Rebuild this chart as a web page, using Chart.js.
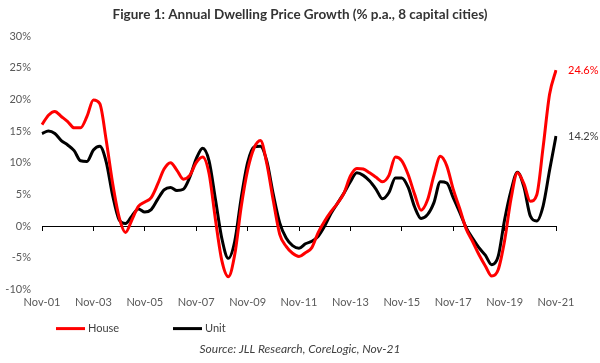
<!DOCTYPE html>
<html>
<head>
<meta charset="utf-8">
<script src="https://cdn.jsdelivr.net/npm/chart.js@4.4.1/dist/chart.umd.min.js"></script>
<style>
  html, body { margin: 0; padding: 0; background: #fff; }
  #wrap { width: 600px; height: 363px; }
</style>
</head>
<body>
<div id="wrap"><canvas id="priceChart" width="600" height="363"></canvas></div>
<script>
// Quarterly readings, Nov-01 .. Nov-21 (% p.a.)
const HOUSE = [
  16.0, 17.5, 18.1, 17.3, 16.5, 15.5, 15.5, 17.3, 19.9, 19.3,
  13.5, 6.7, 1.4, -1.0, 1.0, 3.1, 3.8, 4.5, 6.6, 9.0,
  10.0, 8.8, 7.4, 8.0, 10.0, 10.9, 8.3, 1.0, -5.5, -8.0,
  -4.5, 3.0, 8.8, 12.3, 13.5, 9.8, 4.0, -1.3, -3.2, -4.3,
  -4.8, -4.2, -3.4, -1.0, 0.8, 2.3, 3.6, 5.2, 7.9, 9.1,
  9.0, 8.4, 7.7, 7.0, 8.0, 10.9, 10.3, 8.1, 5.0, 2.5,
  4.1, 8.0, 11.0, 9.5, 5.8, 2.8, -0.4, -2.4, -4.5, -6.3,
  -7.9, -6.9, -2.3, 4.3, 8.4, 6.7, 3.9, 4.9, 12.5, 20.8,
  24.6
];

const UNIT = [
  14.6, 15.0, 14.6, 13.5, 12.8, 11.9, 10.3, 10.2, 12.0, 12.6,
  10.1, 4.8, 1.0, 0.4, 1.6, 2.7, 2.2, 2.6, 4.2, 5.7,
  6.1, 5.6, 5.8, 7.7, 10.6, 12.3, 10.3, 4.2, -2.0, -5.1,
  -2.4, 4.4, 10.0, 12.5, 12.6, 10.2, 5.0, 0.5, -1.9, -3.1,
  -3.5, -2.8, -2.4, -1.6, 0.0, 2.0, 3.6, 5.2, 7.0, 8.4,
  8.0, 7.1, 5.8, 4.3, 5.3, 7.6, 7.6, 6.1, 3.0, 1.2,
  1.8, 3.7, 7.0, 6.8, 4.5, 2.2, -0.2, -1.9, -3.4, -4.6,
  -6.1, -4.8, 1.0, 5.6, 8.5, 6.2, 1.6, 0.8, 3.2, 8.8,
  14.2
];

const MONTH_NAMES = ["Jan", "Feb", "Mar", "Apr", "May", "Jun", "Jul", "Aug", "Sep", "Oct", "Nov", "Dec"];
const START_YEAR = 2001;
const START_MONTH = 10; // Nov
const TICK_EVERY = 8;   // one label every 2 years

const SERIES = [
  { label: "House", data: HOUSE, color: "#ff0000", endColor: "#ff0000" },
  { label: "Unit", data: UNIT, color: "#000000", endColor: "#404040" },
];

const FONT = "Lato, 'Open Sans', sans-serif";
const TEXT_COLOR = "#595959";

// Quarter labels like "Nov-01"
const quarterLabels = HOUSE.map((_, i) => {
  const m = START_MONTH + i * 3;
  const yr = (START_YEAR + Math.floor(m / 12)) % 100;
  return `${MONTH_NAMES[m % 12]}-${String(yr).padStart(2, "0")}`;
});

// Value labels at the end of each line
const endLabels = {
  id: "endLabels",
  afterDatasetsDraw(chart) {
    const { ctx } = chart;
    ctx.save();
    ctx.font = `11px ${FONT}`;
    ctx.textAlign = "left";
    ctx.textBaseline = "middle";
    SERIES.forEach((s, i) => {
      const pts = chart.getDatasetMeta(i).data;
      const last = pts[pts.length - 1];
      ctx.fillStyle = s.endColor;
      ctx.fillText(`${s.data[s.data.length - 1].toFixed(1)}%`, last.x + 12, last.y);
    });
    ctx.restore();
  },
};

// Legend drawn between the x labels and the source line
const lineLegend = {
  id: "lineLegend",
  afterDraw(chart) {
    const { ctx } = chart;
    const y = chart.scales.x.bottom + 14;
    const starts = [56, 173];
    ctx.save();
    ctx.font = `11px ${FONT}`;
    ctx.textBaseline = "middle";
    ctx.textAlign = "left";
    SERIES.forEach((s, i) => {
      const x = starts[i];
      ctx.strokeStyle = s.color;
      ctx.lineWidth = 3;
      ctx.beginPath();
      ctx.moveTo(x, y);
      ctx.lineTo(x + 29, y);
      ctx.stroke();
      ctx.fillStyle = "#404040";
      ctx.fillText(s.label, x + 32, y);
    });
    ctx.restore();
  },
};

const ctx = document.getElementById("priceChart").getContext("2d");

new Chart(ctx, {
  type: "line",
  data: {
    labels: quarterLabels,
    datasets: SERIES.map((s) => ({
      label: s.label,
      data: s.data,
      borderColor: s.color,
      backgroundColor: s.color,
      borderWidth: 3,
      pointRadius: 0,
      fill: false,
      cubicInterpolationMode: "monotone",
    })),
  },
  options: {
    responsive: false,
    animation: false,
    layout: { padding: { left: 0, right: 0, top: 0, bottom: 0 } },
    scales: {
      x: {
        grid: { display: false, drawTicks: false },
        border: { display: false },
        ticks: {
          autoSkip: false,
          maxRotation: 0,
          padding: 6,
          color: TEXT_COLOR,
          font: { family: FONT, size: 11 },
          callback: (v, i) => (i % TICK_EVERY === 0 ? quarterLabels[i] : ""),
        },
      },
      // zero line with tick marks
      x2: {
        type: "category",
        position: { y: 0 },
        grid: {
          drawOnChartArea: false,
          drawTicks: true,
          tickLength: 4,
          color: (c) => (c.index % TICK_EVERY === 0 ? "#000000" : "rgba(0,0,0,0)"),
        },
        border: { display: true, color: "#000000", width: 1 },
        ticks: { display: false },
      },
      y: {
        min: -10,
        max: 30,
        grid: { display: false, drawTicks: false },
        border: { display: false },
        ticks: {
          stepSize: 5,
          padding: 11,
          color: TEXT_COLOR,
          font: { family: FONT, size: 11 },
          callback: (v) => `${v}%`,
        },
        afterFit: (s) => { s.width = 42; },
      },
      // empty right axis to leave room for the end labels
      yRight: {
        position: "right",
        grid: { display: false },
        border: { display: false },
        ticks: { display: false },
        afterFit: (s) => { s.width = 44; },
      },
    },
    plugins: {
      legend: { display: false },
      tooltip: { enabled: false },
      title: {
        display: true,
        text: "Figure 1: Annual Dwelling Price Growth (% p.a., 8 capital cities)",
        color: "#333333",
        font: { family: FONT, size: 13.5, weight: "bold" },
        padding: { top: 7, bottom: 12.8 },
      },
      subtitle: {
        display: true,
        position: "bottom",
        text: "Source: JLL Research, CoreLogic, Nov-21",
        color: "#404040",
        font: { family: FONT, size: 12, style: "italic" },
        padding: { top: 27, bottom: 7 },
      },
    },
  },
  plugins: [endLabels, lineLegend],
});
</script>
</body>
</html>
